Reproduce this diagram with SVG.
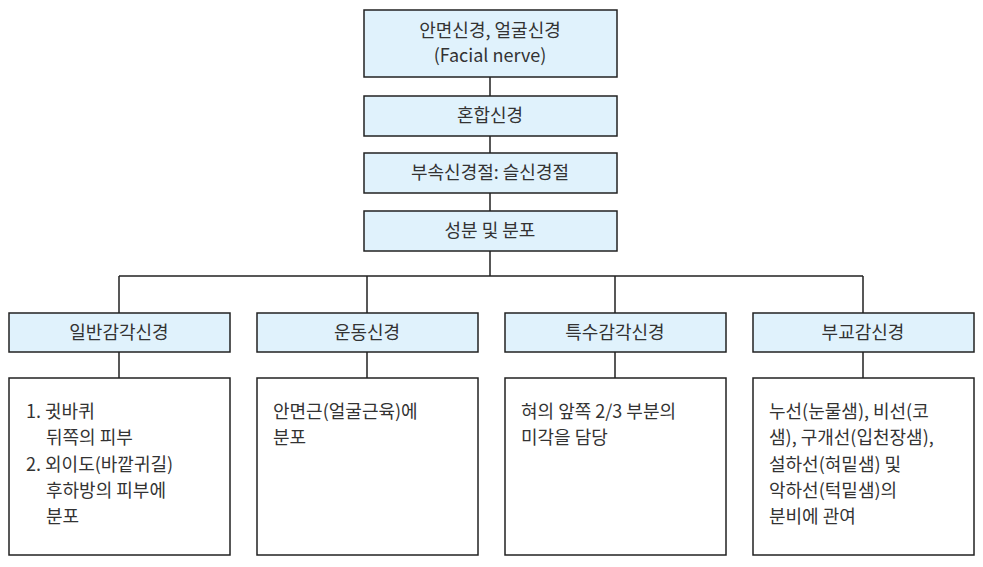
<svg xmlns="http://www.w3.org/2000/svg" width="983" height="567" viewBox="0 0 983 567">
<style>
.b{fill:#e0f2fc;stroke:#222;stroke-width:1.5}
.w{fill:#fff;stroke:#222;stroke-width:1.5}
text{font-family:"Noto Sans CJK KR","Noto Sans",sans-serif;font-size:18px;fill:#333}
.c{text-anchor:middle}
.l{stroke:#222;stroke-width:1.5;fill:none}
</style>
<rect width="983" height="567" fill="#fff"/>
<g id="connectors">
<path class="l" d="M490 77V96M490 136V153M490 193V211M490 251V276M119 276H863M119 276V313M367 276V313M615 276V313M863 276V313M119 352V378M367 352V378M615 352V378M863 352V378"/>
</g>
<g id="n1"><rect class="b" x="364" y="10" width="253" height="67"/><text class="c" x="490" y="37">안면신경, 얼굴신경</text><text class="c" x="490" y="62">(Facial nerve)</text></g>
<g id="n2"><rect class="b" x="364" y="96" width="253" height="40"/><text class="c" x="490" y="122">혼합신경</text></g>
<g id="n3"><rect class="b" x="364" y="153" width="253" height="40"/><text class="c" x="490" y="179">부속신경절: 슬신경절</text></g>
<g id="n4"><rect class="b" x="364" y="211" width="253" height="40"/><text class="c" x="490" y="237">성분 및 분포</text></g>
<g id="c1"><rect class="b" x="9" y="313" width="221" height="39"/><text class="c" x="119" y="339">일반감각신경</text></g>
<g id="c2"><rect class="b" x="257" y="313" width="221" height="39"/><text class="c" x="367" y="339">운동신경</text></g>
<g id="c3"><rect class="b" x="505" y="313" width="221" height="39"/><text class="c" x="615" y="339">특수감각신경</text></g>
<g id="c4"><rect class="b" x="753" y="313" width="221" height="39"/><text class="c" x="863" y="339">부교감신경</text></g>
<g id="d1"><rect class="w" x="9" y="378" width="221" height="177"/>
<text x="26" y="418">1. 귓바퀴</text><text x="46" y="444">뒤쪽의 피부</text><text x="26" y="471">2. 외이도(바깥귀길)</text><text x="46" y="497">후하방의 피부에</text><text x="46" y="523">분포</text></g>
<g id="d2"><rect class="w" x="257" y="378" width="221" height="177"/>
<text x="273" y="418">안면근(얼굴근육)에</text><text x="273" y="444">분포</text></g>
<g id="d3"><rect class="w" x="505" y="378" width="221" height="177"/>
<text x="521" y="418">혀의 앞쪽 2/3 부분의</text><text x="521" y="444">미각을 담당</text></g>
<g id="d4"><rect class="w" x="753" y="378" width="221" height="177"/>
<text x="769" y="418">누선(눈물샘), 비선(코</text><text x="769" y="444">샘), 구개선(입천장샘),</text><text x="769" y="471">설하선(혀밑샘) 및</text><text x="769" y="497">악하선(턱밑샘)의</text><text x="769" y="523">분비에 관여</text></g>
</svg>
